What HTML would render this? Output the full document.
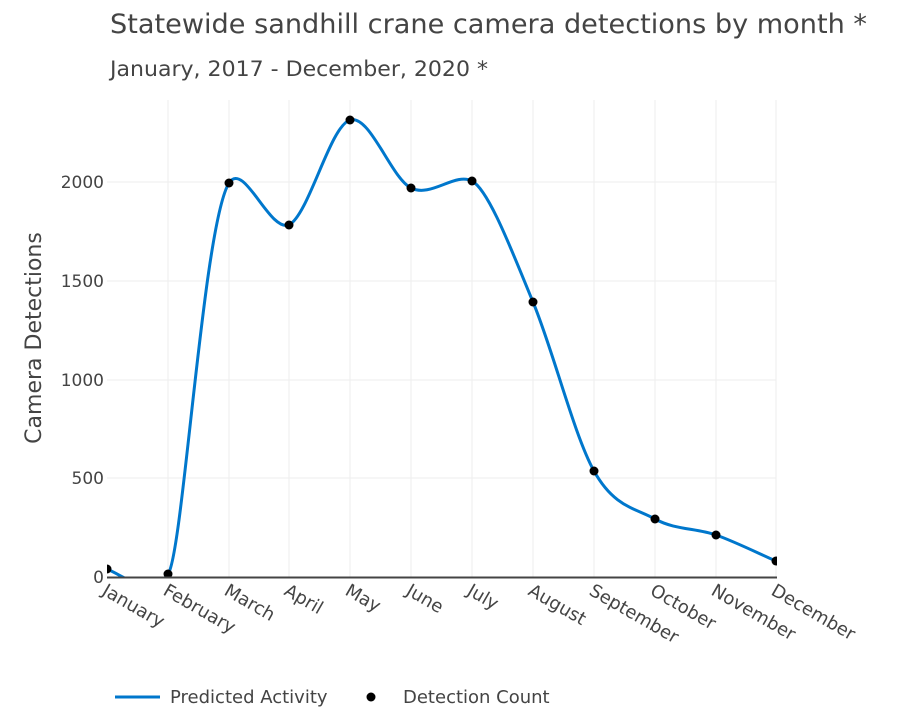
<!DOCTYPE html>
<html><head><meta charset="utf-8"><style>
html,body{margin:0;padding:0;background:#fff;}
svg{display:block;font-family:"DejaVu Sans","Liberation Sans",sans-serif;}
</style></head><body>
<svg width="901" height="728" viewBox="0 0 901 728" xmlns="http://www.w3.org/2000/svg">
<defs><clipPath id="c"><rect x="107" y="90" width="670" height="487.5"/></clipPath></defs>
<text x="110" y="33" font-size="27" fill="#444" font-family="DejaVu Sans, sans-serif" textLength="757" lengthAdjust="spacingAndGlyphs">Statewide sandhill crane camera detections by month *</text>
<text x="110" y="76" font-size="21" fill="#444" font-family="DejaVu Sans, sans-serif" textLength="378" lengthAdjust="spacingAndGlyphs">January, 2017 - December, 2020 *</text>
<g stroke="#eeeeee" stroke-width="1">
<line x1="107" y1="478" x2="776" y2="478"/><line x1="107" y1="380" x2="776" y2="380"/>
<line x1="107" y1="281" x2="776" y2="281"/><line x1="107" y1="182" x2="776" y2="182"/>
<line x1="168" y1="100" x2="168" y2="577"/><line x1="229" y1="100" x2="229" y2="577"/>
<line x1="289" y1="100" x2="289" y2="577"/><line x1="350" y1="100" x2="350" y2="577"/>
<line x1="411" y1="100" x2="411" y2="577"/><line x1="472" y1="100" x2="472" y2="577"/>
<line x1="533" y1="100" x2="533" y2="577"/><line x1="594" y1="100" x2="594" y2="577"/>
<line x1="655" y1="100" x2="655" y2="577"/><line x1="716" y1="100" x2="716" y2="577"/>
<line x1="776" y1="100" x2="776" y2="577"/>
</g>
<g clip-path="url(#c)">
<path fill="none" stroke="#0077cc" stroke-width="3" d="M107,569 C117,572 150,600 168,574 C183,555 203,225 229,183 C244,160 269,232 289,225 C309,214.5 330,126 350,120 C370,114 391,178 411,188 C431,198 455,172 472,181 C489,190 513,254 533,302 C553,350 574,435 594,471 C614,507 635,508 655,519 C675,530 696,528 716,535 C736,542 766,557 776,561"/>
<g fill="#000">
<circle cx="107" cy="569" r="4.5"/><circle cx="168" cy="574" r="4.5"/><circle cx="229" cy="183" r="4.5"/>
<circle cx="289" cy="225" r="4.5"/><circle cx="350" cy="120" r="4.5"/><circle cx="411" cy="188" r="4.5"/>
<circle cx="472" cy="181" r="4.5"/><circle cx="533" cy="302" r="4.5"/><circle cx="594" cy="471" r="4.5"/>
<circle cx="655" cy="519" r="4.5"/><circle cx="716" cy="535" r="4.5"/><circle cx="776" cy="561" r="4.5"/>
</g></g>
<line x1="107" y1="577.5" x2="777" y2="577.5" stroke="#444" stroke-width="2"/>
<g font-size="17" fill="#444" text-anchor="end">
<text x="104" y="583">0</text><text x="104" y="484">500</text><text x="104" y="386">1000</text>
<text x="104" y="287">1500</text><text x="104" y="188">2000</text>
</g>
<text transform="translate(41,338) rotate(-90)" font-size="22" fill="#444" text-anchor="middle">Camera Detections</text>
<g font-size="18" fill="#444">
<text transform="translate(101,594) rotate(30)">January</text>
<text transform="translate(162,594) rotate(30)">February</text>
<text transform="translate(223,594) rotate(30)">March</text>
<text transform="translate(283,594) rotate(30)">April</text>
<text transform="translate(344,594) rotate(30)">May</text>
<text transform="translate(405,594) rotate(30)">June</text>
<text transform="translate(466,594) rotate(30)">July</text>
<text transform="translate(527,594) rotate(30)">August</text>
<text transform="translate(588,594) rotate(30)">September</text>
<text transform="translate(649,594) rotate(30)">October</text>
<text transform="translate(710,594) rotate(30)">November</text>
<text transform="translate(770,594) rotate(30)">December</text>
</g>
<line x1="115" y1="697" x2="160" y2="697" stroke="#0077cc" stroke-width="3"/>
<text x="170" y="703" font-size="18" fill="#444">Predicted Activity</text>
<circle cx="371" cy="697" r="4.5" fill="#000"/>
<text x="403" y="703" font-size="18" fill="#444">Detection Count</text>
</svg>
</body></html>
